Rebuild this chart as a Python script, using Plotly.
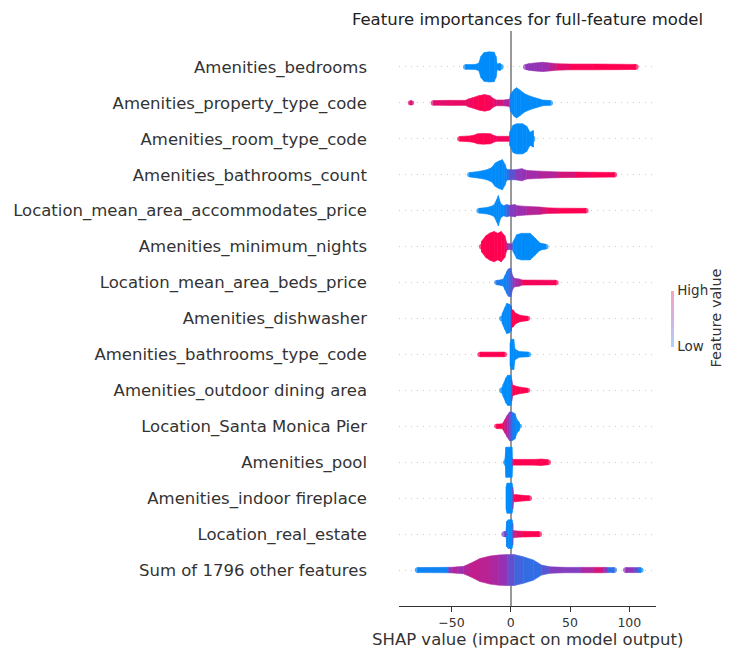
import plotly.graph_objects as go

# ---------------- data ----------------
FEATURES = [
    "Amenities_bedrooms",
    "Amenities_property_type_code",
    "Amenities_room_type_code",
    "Amenities_bathrooms_count",
    "Location_mean_area_accommodates_price",
    "Amenities_minimum_nights",
    "Location_mean_area_beds_price",
    "Amenities_dishwasher",
    "Amenities_bathrooms_type_code",
    "Amenities_outdoor dining area",
    "Location_Santa Monica Pier",
    "Amenities_pool",
    "Amenities_indoor fireplace",
    "Location_real_estate",
    "Sum of 1796 other features",
]

X_TICKS = [-50, 0, 50, 100]
X_RANGE = [-94.2, 122.5]

# swarm profiles: (SHAP value, half-height of the swarm in row units, feature value 0..1); None = gap
SWARM_BEDROOMS = [(-40, .065, 0), (-30, .07, 0), (-27, .10, 0), (-25, .30, 0), (-22.5, .40, 0), (-18, .42, 0),
                  (-14, .41, 0), (-12.5, .30, 0), (-11.5, .08, 0), (-9, .10, 0), (-6.2, .07, 0), None,
                  (10.6, .07, .5), (15, .09, .5), (20, .11, .5), (27, .13, .52), (33, .11, .6), (38.8, .09, .8),
                  (50, .08, .95), (70, .08, 1), (90, .075, 1), (107.6, .07, 1)]
SWARM_PROPERTY = [(-85.2, .06, .85), (-83, .06, .85), None,
                  (-67.2, .065, .85), (-50, .07, .9), (-38, .07, .9), (-35.7, .11, .9), (-31.5, .15, .95),
                  (-27, .20, 1), (-22, .23, 1), (-17.5, .20, .95), (-14.7, .12, .9), (-12, .08, .85),
                  (-6, .08, .75), (-1, .10, .5), (0, .25, 0), (3, .38, 0), (5, .42, 0), (8, .35, 0),
                  (12, .25, 0), (17, .18, 0), (22, .13, 0), (27, .08, 0), (35.4, .065, 0)]
SWARM_ROOM = [(-45, .065, 1), (-35, .08, 1), (-31, .10, 1), (-28, .14, 1), (-23, .15, 1), (-17, .14, 1),
              (-14.7, .10, 1), (-12, .07, .9), (-1, .07, 1), (-0.6, .20, 0), (2, .38, 0), (5, .42, 0),
              (10, .42, 0), (13.5, .35, 0), (16.3, .18, 0), (19, .23, 0), (20.5, .10, 0)]
SWARM_BATH_COUNT = [(-36.6, .06, 0), (-30, .08, 0), (-25.9, .10, 0), (-20, .14, 0), (-16, .20, 0), (-13, .33, 0),
                    (-10, .38, 0), (-7, .42, 0), (-5, .30, 0), (-3.4, .15, .05), (-0.6, .14, .2),
                    (4, .14, .45), (9.3, .17, .5), (13.5, .12, .55), (24.7, .10, .6), (40, .08, .7),
                    (55, .075, .9), (70, .07, 1), (89.4, .065, 1)]
SWARM_ACCOM = [(-28.7, .065, 0), (-20, .09, 0), (-17.5, .11, 0), (-14, .16, 0), (-12, .30, 0), (-10.4, .42, 0),
               (-8.5, .20, 0), (-6, .14, 0), (-3.4, .17, .1), (-1, .15, .4), (3.6, .17, .5), (5, .14, .5),
               (13.5, .12, .6), (24.7, .10, .7), (30, .08, .85), (40, .07, 1), (65.4, .065, 1)]
SWARM_MIN_NIGHTS = [(-26.5, .07, 1), (-24.5, .15, 1), (-21, .30, 1), (-17.5, .38, 1), (-14, .42, 1), (-11, .37, 1),
                    (-8, .42, 1), (-5, .30, 1), (-3.4, .10, .9), (-2, .08, .5), (1.5, .08, .4),
                    (2.2, .15, 0), (5, .33, 0), (9, .37, 0), (16.3, .37, 0), (20.5, .24, 0), (24.7, .10, 0),
                    (31.7, .065, 0)]
SWARM_BEDS_PRICE = [(-13.8, .06, .1), (-8, .08, .1), (-6.2, .10, 0), (-4.8, .20, 0), (-3.4, .30, .1),
                    (-2, .38, .1), (0, .40, .2), (1.5, .20, .35), (3, .12, .5), (7, .10, .6), (10, .07, .9),
                    (40.2, .065, 1)]
SWARM_DISHWASHER = [(-9.6, .07, 0), (-7, .15, 0), (-5, .30, 0), (-3.4, .42, 0), (-1, .40, 0), (0.3, .35, 0),
                    (0.8, .25, 1), (2.2, .23, 1), (4, .15, 1), (7.8, .09, 1), (12, .07, 1), (16.3, .06, 1)]
SWARM_BATH_TYPE = [(-27.8, .065, 1), (-3.4, .065, 1), None,
                   (-0.6, .30, 0), (0.5, .42, 0), (2.5, .42, 0), (3.6, .15, 0), (5.1, .12, 0), (7, .08, 0),
                   (16.9, .065, 0)]
SWARM_OUTDOOR = [(-9.6, .07, 0), (-6.2, .18, 0), (-4, .35, 0), (-2.5, .42, 0), (0, .42, 0), (0.8, .30, 0),
                 (1.7, .15, 1), (4, .12, 1), (8, .09, 1), (16.3, .06, 1)]
SWARM_PIER = [(-13.8, .06, 1), (-7, .07, 1), (-5, .18, .85), (-3, .30, .6), (-1, .40, .45), (1, .40, .2),
              (3.6, .35, 0), (5.1, .20, 0), (7, .12, 0), (9.3, .06, 0)]
SWARM_POOL = [(-6.2, .07, 0), (-4.8, .10, 0), (-4, .42, 0), (1, .42, 0), (1.5, .10, 0),
              (2.2, .08, 1), (20, .08, 1), (26, .09, 1), (33.7, .07, 1)]
SWARM_FIREPLACE = [(-4, .30, 0), (-3, .42, 0), (1, .42, 0), (1.7, .30, 0),
                   (2.5, .09, 1), (4, .10, 1), (10, .08, 1), (17.7, .065, 1)]
SWARM_REAL_ESTATE = [(-7.6, .07, .4), (-4, .08, .3), (-3.4, .35, 0), (-2, .40, 0), (1, .40, 0), (1.7, .30, 0),
                     (2, .10, .6), (5, .09, .75), (10, .08, 1), (26.1, .07, 1)]
SWARM_OTHER = [(-80.7, .07, 0), (-52.6, .075, .1), (-49, .08, .8), (-45, .09, .5), (-40, .10, .6),
               (-34.3, .18, .7), (-25.9, .32, .72), (-17.5, .39, .65), (-10, .42, .6), (-3, .43, .45),
               (3, .43, .25), (10.6, .37, .2), (19.1, .28, .15), (26, .14, .2), (33.1, .09, .4),
               (45, .075, .5), (60, .075, .4), (70, .075, .85), (78, .075, .75), (82, .07, .2),
               (89.4, .07, .15), None,
               (94.9, .07, .5), (103.5, .07, .5), (108, .07, .2), (111.8, .065, 0)]

SWARMS = [SWARM_BEDROOMS, SWARM_PROPERTY, SWARM_ROOM, SWARM_BATH_COUNT, SWARM_ACCOM, SWARM_MIN_NIGHTS,
          SWARM_BEDS_PRICE, SWARM_DISHWASHER, SWARM_BATH_TYPE, SWARM_OUTDOOR, SWARM_PIER, SWARM_POOL,
          SWARM_FIREPLACE, SWARM_REAL_ESTATE, SWARM_OTHER]

# ---------------- styling ----------------
BLUE = (0, 139, 251)
PURPLE = (146, 52, 184)
RED = (255, 0, 81)
FONT = "DejaVu Sans"
W, H = 731, 649
MARGIN = dict(l=399, r=75, t=31, b=43)
PLOT_W = W - MARGIN["l"] - MARGIN["r"]
PLOT_H = H - MARGIN["t"] - MARGIN["b"]
N = len(FEATURES)
ROW_PX = PLOT_H / (N + 1)
PX_PER_X = PLOT_W / (X_RANGE[1] - X_RANGE[0])


def fv_color(c):
    c = max(0.0, min(1.0, c))
    if c <= 0.5:
        a, b, t = BLUE, PURPLE, c / 0.5
    else:
        a, b, t = PURPLE, RED, (c - 0.5) / 0.5
    r, g, bl = (round(a[k] + (b[k] - a[k]) * t) for k in range(3))
    return f"rgb({r},{g},{bl})"


def split_pieces(profile):
    pieces, cur = [], []
    for p in profile:
        if p is None:
            if cur:
                pieces.append(cur)
            cur = []
        else:
            cur.append(p)
    if cur:
        pieces.append(cur)
    return pieces


fig = go.Figure()
for i, (name, prof) in enumerate(zip(FEATURES, SWARMS)):
    yc = N - 1 - i
    for piece in split_pieces(prof):
        piece = [list(p) for p in piece]
        caps = []
        # round the thin ends of each piece like the dot ends of a swarm
        for idx, sgn in ((0, 1), (-1, -1)):
            x, h, c = piece[idx]
            if h <= 0.1:
                r_data = h * ROW_PX / PX_PER_X
                piece[idx][0] = x + sgn * r_data
                caps.append((piece[idx][0], h, c))
        for (x1, h1, c1), (x2, h2, c2) in zip(piece[:-1], piece[1:]):
            col = fv_color((c1 + c2) / 2)
            fig.add_trace(go.Scatter(
                x=[x1, x2, x2, x1, x1],
                y=[yc + h1, yc + h2, yc - h2, yc - h1, yc + h1],
                mode="lines", fill="toself", fillcolor=col,
                line=dict(color=col, width=0.6),
                hoverinfo="skip", showlegend=False))
        if caps:
            fig.add_trace(go.Scatter(
                x=[cp[0] for cp in caps], y=[yc] * len(caps), mode="markers",
                marker=dict(size=[2 * cp[1] * ROW_PX + 0.6 for cp in caps],
                            color=[fv_color(cp[2]) for cp in caps], line=dict(width=0)),
                hoverinfo="skip", showlegend=False))

# colour bar
fig.add_trace(go.Scatter(
    x=[None], y=[None], mode="markers", hoverinfo="skip", showlegend=False,
    marker=dict(
        color=[0.5], cmin=0, cmax=1,
        colorscale=[[0, "#a9d2fb"], [0.5, "#d6b0e6"], [1, "#f7a3bf"]],
        showscale=True,
        colorbar=dict(
            x=1.058, xanchor="left", xpad=0, ypad=0,
            y=0.5, yanchor="middle",
            len=56, lenmode="pixels", thickness=3, thicknessmode="pixels",
            outlinewidth=0, ticks="", tickvals=[0, 1], ticktext=["Low", "High"],
            tickfont=dict(family=FONT, size=13.5, color="#333333"),
        ),
    ),
))

fig.add_annotation(text="Feature value", textangle=-90, xref="paper", yref="paper",
                   x=1.2296, y=0.5, xanchor="center", yanchor="middle", showarrow=False,
                   font=dict(family=FONT, size=14.5, color="#333333"))
fig.add_annotation(text="SHAP value (impact on model output)", xref="paper", yref="paper",
                   x=0.5, y=-0.0588, xanchor="center", yanchor="middle", showarrow=False,
                   font=dict(family=FONT, size=16.5, color="#333333"))

fig.update_layout(
    width=W, height=H,
    margin=MARGIN,
    paper_bgcolor="white", plot_bgcolor="white",
    font=dict(family=FONT, color="#333333"),
    title=dict(text="Feature importances for full-feature model", x=0.5, xref="paper",
               xanchor="center", y=1 - 19 / H, yref="container", yanchor="middle",
               font=dict(family=FONT, size=16.5, color="#222222")),
    xaxis=dict(range=X_RANGE, tickvals=X_TICKS, ticks="outside", ticklen=5, tickwidth=1,
               tickcolor="#333333", showline=True, linecolor="#333333", linewidth=1,
               showgrid=False, zeroline=True, zerolinecolor="#999999", zerolinewidth=1.5,
               tickfont=dict(family=FONT, size=12.5, color="#333333"), fixedrange=True),
    yaxis=dict(range=[-1, N], tickvals=list(range(N)), ticktext=FEATURES[::-1],
               ticks="", showline=False, zeroline=False,
               showgrid=True, gridcolor="#cccccc", gridwidth=0.7, griddash="1px,5px",
               ticklabelstandoff=31,
               tickfont=dict(family=FONT, size=16.5, color="#333333"), fixedrange=True),
)

fig.write_html("out.html")
